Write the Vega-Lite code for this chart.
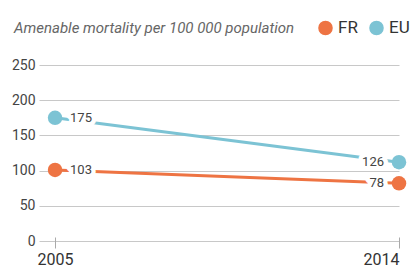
{
  "$schema": "https://vega.github.io/schema/vega-lite/v6.json",
  "width": 360,
  "height": 176,
  "autosize": {"type": "none"},
  "padding": {"left": 39, "top": 65, "right": 21, "bottom": 29},
  "background": "white",
  "config": {"view": {"stroke": null}, "font": "Roboto"},
  "title": {
    "text": "Amenable mortality per 100 000 population",
    "anchor": "start",
    "frame": "group",
    "fontSize": 15,
    "fontStyle": "italic",
    "fontWeight": "normal",
    "color": "#666666",
    "offset": -17,
    "dx": -25
  },
  "data": {
    "values": [
      {"series": "FR", "year": 2005, "value": 101, "label": "103"},
      {"series": "FR", "year": 2014, "value": 82, "label": "78"},
      {"series": "EU", "year": 2005, "value": 175, "label": "175"},
      {"series": "EU", "year": 2014, "value": 112, "label": "126"}
    ]
  },
  "encoding": {
    "x": {
      "field": "year", "type": "quantitative",
      "scale": {"domain": [2004.58, 2014], "nice": false, "zero": false},
      "axis": {
        "title": null, "values": [2005, 2014], "format": "d", "grid": false, "domain": false,
        "tickSize": 11, "offset": -4, "tickColor": "#aaaaaa", "labelFontSize": 16,
        "labelColor": "#333333", "labelPadding": 3
      }
    },
    "y": {
      "field": "value", "type": "quantitative",
      "scale": {"domain": [0, 250], "nice": false},
      "axis": {
        "title": null, "values": [0, 50, 100, 150, 200, 250], "ticks": false, "domain": false,
        "gridColor": "#c8c8c8", "labelFontSize": 14, "labelColor": "#444444", "labelPadding": 4
      }
    },
    "color": {
      "field": "series", "type": "nominal",
      "scale": {"domain": ["FR", "EU"], "range": ["#EE7443", "#7CC3D4"]},
      "legend": {
        "title": null, "orient": "none", "direction": "horizontal",
        "legendX": 278, "legendY": -46, "symbolType": "circle", "symbolSize": 170,
        "symbolOpacity": 1, "labelFontSize": 17, "labelColor": "#333333",
        "columnPadding": 8, "labelOffset": 4
      }
    }
  },
  "layer": [
    {"mark": {"type": "line", "strokeWidth": 3}},
    {
      "mark": {
        "type": "text", "fontSize": 13, "stroke": "white", "strokeWidth": 9, "strokeJoin": "round",
        "fill": "white", "baseline": "middle",
        "align": {"expr": "datum.year == 2005 ? 'left' : 'right'"},
        "dx": {"expr": "datum.year == 2005 ? 15 : -15"}
      },
      "encoding": {"text": {"field": "label"}, "color": {"value": "white"}}
    },
    {
      "mark": {
        "type": "text", "fontSize": 13, "baseline": "middle",
        "align": {"expr": "datum.year == 2005 ? 'left' : 'right'"},
        "dx": {"expr": "datum.year == 2005 ? 15 : -15"}
      },
      "encoding": {"text": {"field": "label"}, "color": {"value": "#444444"}}
    },
    {"mark": {"type": "circle", "size": 210, "opacity": 1}}
  ]
}
